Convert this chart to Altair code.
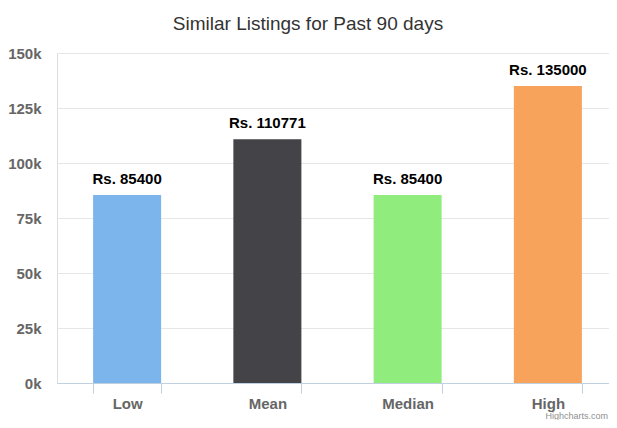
import altair as alt
import pandas as pd

categories = ["Low", "Mean", "Median", "High"]
values = [85400, 110771, 85400, 135000]
colors = ["#7cb5ec", "#434348", "#90ed7d", "#f7a35c"]
labels = ["Rs. 85400", "Rs. 110771", "Rs. 85400", "Rs. 135000"]
y_ticks = [0, 25000, 50000, 75000, 100000, 125000, 150000]
title_text = "Similar Listings for Past 90 days"
credit_text = "Highcharts.com"

df = pd.DataFrame({"category": categories, "value": values, "color": colors, "label": labels})

FONT = "Liberation Sans"

x_enc = alt.X(
    "category:N",
    sort=categories,
    scale=alt.Scale(paddingInner=0.515, paddingOuter=0.2575, range=[0, 561]),
    axis=alt.Axis(
        title=None,
        labelAngle=0,
        domainColor="#c0d0e0",
        tickColor="#c0d0e0",
        tickSize=10,
        tickBand="extent",
        labelFont=FONT,
        labelFontSize=15,
        labelFontWeight="bold",
        labelColor="#666666",
        labelPadding=3,
        grid=False,
    ),
)
y_enc = alt.Y(
    "value:Q",
    scale=alt.Scale(domain=[0, 150000], nice=False),
    axis=alt.Axis(
        title=None,
        values=y_ticks,
        labelExpr="datum.value / 1000 + 'k'",
        grid=True,
        gridColor="#e6e6e6",
        domain=False,
        ticks=False,
        labelPadding=16,
        labelFont=FONT,
        labelFontSize=15,
        labelFontWeight="bold",
        labelColor="#666666",
    ),
)

base = alt.Chart(df)
bars = base.mark_bar().encode(x=x_enc, y=y_enc, color=alt.Color("color:N", scale=None))
texts = base.mark_text(
    dy=-8, baseline="bottom", font=FONT, fontSize=15, fontWeight="bold", color="#000000"
).encode(x=alt.X("category:N", sort=categories), y="value:Q", text="label:N")

title = alt.Chart(pd.DataFrame({"t": [title_text]})).mark_text(
    font=FONT, fontSize=19, color="#333333", align="center", baseline="alphabetic"
).encode(x=alt.value(251), y=alt.value(-23), text="t:N")

credit = alt.Chart(pd.DataFrame({"t": [credit_text]})).mark_text(
    font=FONT, fontSize=9, color="#909090", align="right", baseline="alphabetic"
).encode(x=alt.value(551), y=alt.value(366), text="t:N")

chart = (
    alt.layer(bars, texts, title, credit)
    .properties(
        width=552,
        height=330,
        padding={"left": 49, "top": 45, "right": 0, "bottom": 37},
        autosize=alt.AutoSizeParams(type="none"),
    )
    .configure_view(stroke=None)
    .configure(background="#ffffff")
)

chart.save("out.html", embed_options={"renderer": "svg", "actions": False})
